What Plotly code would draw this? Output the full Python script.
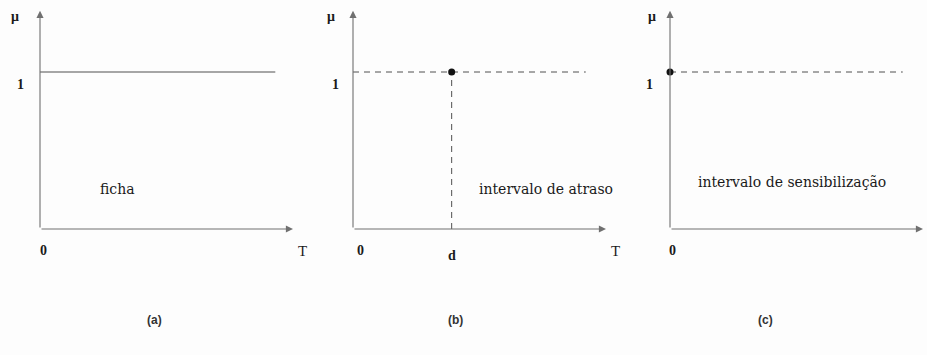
import plotly.graph_objects as go

# ---- data -------------------------------------------------------------
panel_tags = ["(a)", "(b)", "(c)"]
captions = ["ficha", "intervalo de atraso", "intervalo de sensibilização"]

mu_level = 1.0          # membership value drawn on each panel
axis_T_end = 1.0        # length of the T axis
axis_mu_end = 1.39      # length of the μ axis

ficha_T = [0.0, 0.93]   # (a) constant membership over the interval
ficha_mu = [1.0, 1.0]

delay_d = 0.39          # (b) delay instant d
delay_ref_T = [0.0, 0.92]
sens_point_T = 0.0      # (c) sensibilisation at T = 0
sens_ref_T = [0.0, 0.92]

# ---- layout geometry (pixels) ----------------------------------------
W, H = 927, 355
panel_px = [(0, 310), (310, 620), (620, 927)]
origin_x = [40, 353, 670]
origin_y = 229
sx = 253.0   # px per T unit
sy = 157.0   # px per μ unit

AX_COL = "#707070"
LN_COL = "#505050"
TXT_COL = "#1a1a1a"
SERIF = "Liberation Serif, Times New Roman, serif"
CAP_FONT = "DejaVu Serif, serif"

fig = go.Figure()
yr = [(origin_y - H) / sy, origin_y / sy]

annotations = []
for i in range(3):
    sfx = "" if i == 0 else str(i + 1)
    left, right = panel_px[i]
    fig.update_layout(**{
        f"xaxis{sfx}": dict(domain=[left / W, right / W],
                            range=[(left - origin_x[i]) / sx, (right - origin_x[i]) / sx],
                            visible=False, fixedrange=True, anchor=f"y{sfx}"),
        f"yaxis{sfx}": dict(domain=[0, 1], range=yr, visible=False,
                            fixedrange=True, anchor=f"x{sfx}"),
    })
    xr, yrf = f"x{sfx}", f"y{sfx}"
    # T axis with arrow
    annotations.append(dict(x=axis_T_end, y=0, ax=0, ay=0, xref=xr, yref=yrf,
                            axref=xr, ayref=yrf, text="", showarrow=True,
                            arrowhead=2, arrowsize=1.3, arrowwidth=1.1,
                            arrowcolor=AX_COL, standoff=0))
    # μ axis with arrow
    annotations.append(dict(x=0, y=axis_mu_end, ax=0, ay=0, xref=xr, yref=yrf,
                            axref=xr, ayref=yrf, text="", showarrow=True,
                            arrowhead=2, arrowsize=1.3, arrowwidth=1.1,
                            arrowcolor=AX_COL, standoff=0))

# (a) constant line
fig.add_trace(go.Scatter(x=ficha_T, y=ficha_mu, mode="lines",
                         line=dict(color=LN_COL, width=1.1),
                         xaxis="x", yaxis="y", showlegend=False, hoverinfo="skip"))

# (b) dashed reference lines and point at (d, 1)
fig.add_trace(go.Scatter(x=delay_ref_T, y=[mu_level, mu_level], mode="lines",
                         line=dict(color=LN_COL, width=1, dash="6px,5px"),
                         xaxis="x2", yaxis="y2", showlegend=False, hoverinfo="skip"))
fig.add_trace(go.Scatter(x=[delay_d, delay_d], y=[0, mu_level], mode="lines",
                         line=dict(color=LN_COL, width=1, dash="6px,5px"),
                         xaxis="x2", yaxis="y2", showlegend=False, hoverinfo="skip"))
fig.add_trace(go.Scatter(x=[delay_d], y=[mu_level], mode="markers",
                         marker=dict(color="#111111", size=7),
                         xaxis="x2", yaxis="y2", showlegend=False, hoverinfo="skip"))

# (c) dashed reference line and point at (0, 1)
fig.add_trace(go.Scatter(x=sens_ref_T, y=[mu_level, mu_level], mode="lines",
                         line=dict(color=LN_COL, width=1, dash="6px,5px"),
                         xaxis="x3", yaxis="y3", showlegend=False, hoverinfo="skip"))
fig.add_trace(go.Scatter(x=[sens_point_T], y=[mu_level], mode="markers",
                         marker=dict(color="#111111", size=7),
                         xaxis="x3", yaxis="y3", showlegend=False, hoverinfo="skip"))


def label(text, x, y, ref, dx=0, dy=0, size=13, bold=False, family=SERIF):
    t = f"<b>{text}</b>" if bold else text
    annotations.append(dict(text=t, x=x, y=y, xref=f"x{ref}", yref=f"y{ref}",
                            xshift=dx, yshift=dy, showarrow=False,
                            font=dict(family=family, size=size, color=TXT_COL)))


# axis labels per panel: (μ dx, "1" dx, "0" dx)
axis_lbl = [(-25, -20, 3), (-22, -18, 7), (-18, -21, 2)]
for i in range(3):
    ref = "" if i == 0 else str(i + 1)
    mdx, odx, zdx = axis_lbl[i]
    label("μ", 0, axis_mu_end, ref, dx=mdx, dy=-6, size=14, bold=True)
    label("1", 0, mu_level, ref, dx=odx, dy=-12, size=14, bold=True)
    label("0", 0, 0, ref, dx=zdx, dy=-21, size=14, bold=True)
    label("T", axis_T_end, 0, ref, dx=9, dy=-22, size=15)

label("d", delay_d, 0, "2", dy=-26, size=14, bold=True)

# captions inside each panel
caption_pos = [(0.308, 0.255), (0.763, 0.255), (0.482, 0.30)]
for i, (cx, cy) in enumerate(caption_pos):
    ref = "" if i == 0 else str(i + 1)
    label(captions[i], cx, cy, ref, size=14, family=CAP_FONT)

# panel tags below
tag_px = [145, 455, 775]
for tag, px in zip(panel_tags, tag_px):
    annotations.append(dict(text=f"<b>{tag}</b>", x=px / W, y=1 - 329 / H,
                            xref="paper", yref="paper", showarrow=False,
                            font=dict(family="Liberation Sans Narrow, Arial Narrow, sans-serif",
                                      size=12, color="#333333")))

fig.update_layout(width=W, height=H, margin=dict(l=0, r=0, t=0, b=0),
                  paper_bgcolor="#fdfdfd", plot_bgcolor="rgba(0,0,0,0)",
                  annotations=annotations, showlegend=False)

fig.write_html("out.html", config={"displayModeBar": False})
